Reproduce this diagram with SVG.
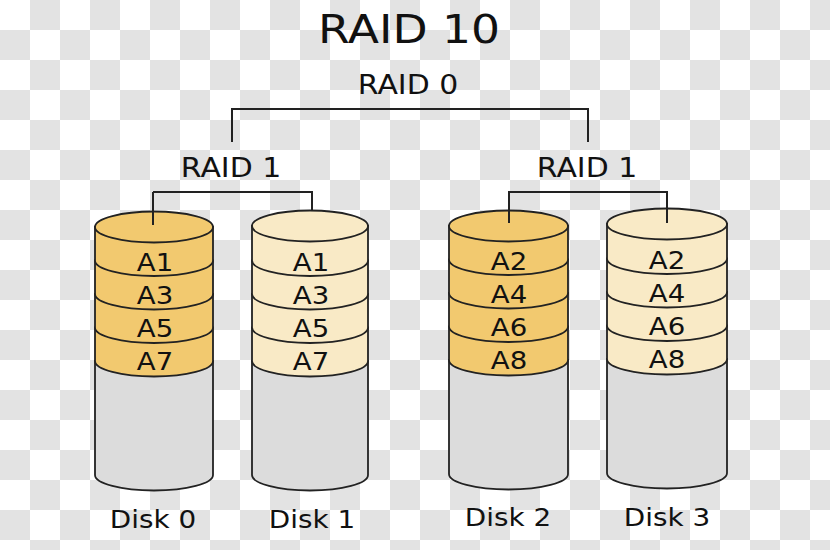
<svg xmlns="http://www.w3.org/2000/svg" width="830" height="550" viewBox="0 0 830 550">
<defs>
<pattern id="chk" width="60" height="60" patternUnits="userSpaceOnUse">
<rect width="60" height="60" fill="#ffffff"/>
<rect x="30" y="0" width="30" height="30" fill="#e3e3e3"/>
<rect x="0" y="30" width="30" height="30" fill="#e3e3e3"/>
</pattern>
<style>
.t{font-family:"DejaVu Sans","Liberation Sans",sans-serif;fill:#111;text-anchor:middle}
.c{fill:none;stroke:#222;stroke-width:2}
.s{stroke:#222;stroke-width:1.8}
.d{fill:#f2c96f}
.l{fill:#f9eac6}
.g{fill:#dcdcdc}
</style>
</defs>
<rect width="830" height="550" fill="url(#chk)"/>
<text class="t" font-size="39" transform="matrix(1.17 0 0 1 409 43)">RAID 10</text>
<text class="t" font-size="26" transform="matrix(1.15 0 0 1 408 94)">RAID 0</text>
<text class="t" font-size="26" transform="matrix(1.15 0 0 1 231 177)">RAID 1</text>
<text class="t" font-size="26" transform="matrix(1.15 0 0 1 587 177)">RAID 1</text>
<g id="connectors">
<path class="c" d="M232,142 V109 H588 V142"/>
<path class="c" d="M312,210 V192 H153"/>
<path class="c" d="M509,223 V192 H667 V208"/>
</g>
<g id="disk0">
<path class="s g" d="M95,361 V475 A59,15.5 0 0 0 213,475 V361 Z"/>
<path class="s d" d="M95,327.5 V361 A59,15.5 0 0 0 213,361 V327.5 Z"/>
<path class="s d" d="M95,294 V327.5 A59,15.5 0 0 0 213,327.5 V294 Z"/>
<path class="s d" d="M95,260.5 V294 A59,15.5 0 0 0 213,294 V260.5 Z"/>
<path class="s d" d="M95,227 V260.5 A59,15.5 0 0 0 213,260.5 V227 Z"/>
<ellipse class="s d" cx="154" cy="227" rx="59" ry="15.5"/>
<text class="t" font-size="24" transform="matrix(1.15 0 0 1 155 271)">A1</text>
<text class="t" font-size="24" transform="matrix(1.15 0 0 1 155 304)">A3</text>
<text class="t" font-size="24" transform="matrix(1.15 0 0 1 155 337)">A5</text>
<text class="t" font-size="24" transform="matrix(1.15 0 0 1 155 370)">A7</text>
<text class="t" font-size="24" transform="matrix(1.16 0 0 1 153 528)">Disk 0</text>
</g>
<g id="disk1">
<path class="s g" d="M252,361 V475 A58,15.5 0 0 0 368,475 V361 Z"/>
<path class="s l" d="M252,327.5 V361 A58,15.5 0 0 0 368,361 V327.5 Z"/>
<path class="s l" d="M252,294 V327.5 A58,15.5 0 0 0 368,327.5 V294 Z"/>
<path class="s l" d="M252,260.5 V294 A58,15.5 0 0 0 368,294 V260.5 Z"/>
<path class="s l" d="M252,226 V260.5 A58,15.5 0 0 0 368,260.5 V226 Z"/>
<ellipse class="s l" cx="310" cy="226" rx="58" ry="15.5"/>
<text class="t" font-size="24" transform="matrix(1.15 0 0 1 311 271)">A1</text>
<text class="t" font-size="24" transform="matrix(1.15 0 0 1 311 304)">A3</text>
<text class="t" font-size="24" transform="matrix(1.15 0 0 1 311 337)">A5</text>
<text class="t" font-size="24" transform="matrix(1.15 0 0 1 311 370)">A7</text>
<text class="t" font-size="24" transform="matrix(1.16 0 0 1 312 528)">Disk 1</text>
</g>
<g id="disk2">
<path class="s g" d="M449,360 V474 A59.5,15.5 0 0 0 568,474 V360 Z"/>
<path class="s d" d="M449,326.5 V360 A59.5,15.5 0 0 0 568,360 V326.5 Z"/>
<path class="s d" d="M449,293 V326.5 A59.5,15.5 0 0 0 568,326.5 V293 Z"/>
<path class="s d" d="M449,259.5 V293 A59.5,15.5 0 0 0 568,293 V259.5 Z"/>
<path class="s d" d="M449,226 V259.5 A59.5,15.5 0 0 0 568,259.5 V226 Z"/>
<ellipse class="s d" cx="508.5" cy="226" rx="59.5" ry="15.5"/>
<text class="t" font-size="24" transform="matrix(1.15 0 0 1 509 270)">A2</text>
<text class="t" font-size="24" transform="matrix(1.15 0 0 1 509 303)">A4</text>
<text class="t" font-size="24" transform="matrix(1.15 0 0 1 509 336)">A6</text>
<text class="t" font-size="24" transform="matrix(1.15 0 0 1 509 369)">A8</text>
<text class="t" font-size="24" transform="matrix(1.16 0 0 1 508 526)">Disk 2</text>
</g>
<g id="disk3">
<path class="s g" d="M607,359 V473 A60,15.5 0 0 0 727,473 V359 Z"/>
<path class="s l" d="M607,325.5 V359 A60,15.5 0 0 0 727,359 V325.5 Z"/>
<path class="s l" d="M607,292 V325.5 A60,15.5 0 0 0 727,325.5 V292 Z"/>
<path class="s l" d="M607,258.5 V292 A60,15.5 0 0 0 727,292 V258.5 Z"/>
<path class="s l" d="M607,224 V258.5 A60,15.5 0 0 0 727,258.5 V224 Z"/>
<ellipse class="s l" cx="667" cy="224" rx="60" ry="15.5"/>
<path class="c" d="M667,208 V223"/>
<text class="t" font-size="24" transform="matrix(1.15 0 0 1 667 269)">A2</text>
<text class="t" font-size="24" transform="matrix(1.15 0 0 1 667 302)">A4</text>
<text class="t" font-size="24" transform="matrix(1.15 0 0 1 667 335)">A6</text>
<text class="t" font-size="24" transform="matrix(1.15 0 0 1 667 368)">A8</text>
<text class="t" font-size="24" transform="matrix(1.16 0 0 1 667 526)">Disk 3</text>
</g>
<g id="lines-on-top">
<path class="c" d="M153,192 V225"/>
<path class="c" d="M509,208 V223"/>
</g>
</svg>
